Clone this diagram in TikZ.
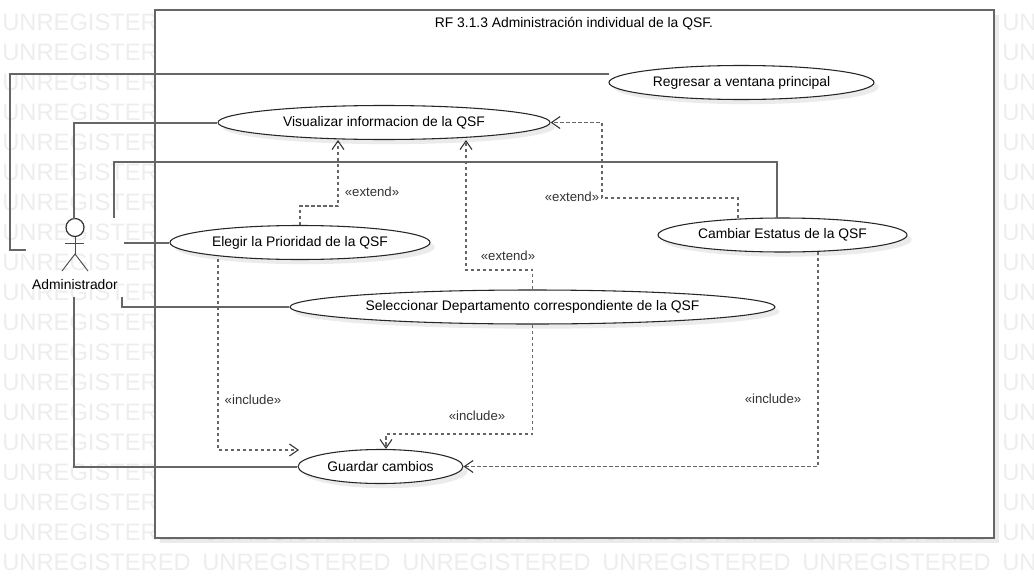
\documentclass[tikz,border=0pt]{standalone}
\usepackage{fontspec}
\setmainfont{Liberation Sans}
\usetikzlibrary{arrows.meta,shadows,shapes.geometric}
\definecolor{linegray}{HTML}{666666}
\definecolor{markgray}{HTML}{EDEDED}
\tikzset{
 usecase/.style={draw=black!85, line width=0.8pt, fill=white, ellipse, inner sep=0pt,
  drop shadow={shadow xshift=3.5pt, shadow yshift=-3.5pt, fill=black, opacity=0.08},
  font=\fontsize{10.4pt}{12pt}\selectfont},
 assoc/.style={draw=linegray, line width=1.5pt},
 dep/.style={draw=linegray, line width=1.2pt, dash pattern=on 2.6pt off 1.9pt,
  -{Straight Barb[length=6.5pt, width=9pt, line width=0.8pt, color=black!80]}},
 stereo/.style={font=\fontsize{9.9pt}{11pt}\selectfont, text=black!80, inner sep=0pt},
 actorline/.style={draw=black!70, line width=0.7pt}
}
\begin{document}
\begin{tikzpicture}[x=0.75pt, y=-0.75pt]
 \useasboundingbox (0,0) rectangle (1034,578);

 % Wasserzeichen
 \begin{scope}
  \clip (0,0) rectangle (1034,578);
  \foreach \r in {0,...,18}
   \foreach \c in {0,...,5}
    \node[anchor=west, inner sep=0pt, text=markgray, font=\fontsize{17.8pt}{20pt}\selectfont]
     (mark-\r-\c) at ({\c*200+2}, {22+\r*30}) {UNREGISTERED};
 \end{scope}

 % System frame
 \node[draw=linegray, line width=1.5pt, fill=white, minimum width=839*0.75pt, minimum height=528*0.75pt,
  inner sep=0pt, drop shadow={shadow xshift=4pt, shadow yshift=-4pt, fill=black, opacity=0.08}]
  (frame) at (574,274) {};
 \node[font=\fontsize{10.4pt}{12pt}\selectfont] (title) at (574,23.5) {RF 3.1.3 Administración individual de la QSF.};

 % Use cases
 \node[usecase, minimum width=265*0.75pt, minimum height=34*0.75pt] (regresar) at (741.5,82.5) {Regresar a ventana principal};
 \node[usecase, minimum width=332*0.75pt, minimum height=34*0.75pt] (visualizar) at (384,122.5) {Visualizar informacion de la QSF};
 \node[usecase, minimum width=260*0.75pt, minimum height=34*0.75pt] (elegir) at (300,242.5) {Elegir la Prioridad de la QSF};
 \node[usecase, minimum width=249*0.75pt, minimum height=34*0.75pt] (cambiar) at (782.5,235) {Cambiar Estatus de la QSF};
 \node[usecase, minimum width=485*0.75pt, minimum height=34*0.75pt] (seleccionar) at (532.5,307) {Seleccionar Departamento correspondiente de la QSF};
 \node[usecase, minimum width=165*0.75pt, minimum height=34*0.75pt] (guardar) at (380.5,466.5) {Guardar cambios};

 % Actor
 \node[draw=black!80, line width=0.9pt, fill=white, circle, minimum size=18*0.75pt, inner sep=0pt] (head) at (75,227.5) {};
 \coordinate (hip) at (75,254);
 \coordinate (armL) at (65,243);
 \coordinate (armR) at (84,243);
 \coordinate (footL) at (62,271);
 \coordinate (footR) at (88,271);
 \draw[actorline] (head) -- (hip);
 \draw[actorline] (armL) -- (armR);
 \draw[actorline] (footL) -- (hip) -- (footR);
 \node[font=\fontsize{10.4pt}{12pt}\selectfont] (admin) at (75,284.5) {Administrador};

 % Free ends at the actor
 \coordinate (endRegresar) at (26,250);
 \coordinate (endVisualizar) at (74,219);
 \coordinate (endCambiar) at (114,218);
 \coordinate (endElegir) at (124,242);
 \coordinate (endSeleccionar) at (122,297);
 \coordinate (endGuardar) at (74,297);

 % Associations
 \coordinate (startRegresar) at (609,74);
 \draw[assoc] (startRegresar) -- (10,74) -- (10,250) -- (endRegresar);
 \draw[assoc] (visualizar.west) -| (endVisualizar);
 \coordinate (startCambiar) at (777,218);
 \draw[assoc] (startCambiar) -- (777,162) -| (endCambiar);
 \draw[assoc] (elegir.west) -- (elegir.west -| endElegir);
 \draw[assoc] (seleccionar.west) -| (endSeleccionar);
 \draw[assoc] (guardar.west) -| (endGuardar);

 % Dependencies
 \coordinate (elbowElegir) at (338,206);
 \draw[dep] (elegir.north) |- (elbowElegir) -- (elbowElegir |- visualizar.south);
 \node[stereo] (extendA) at (372,192) {«extend»};

 \coordinate (elbowSelect) at (466,270);
 \draw[dep] (seleccionar.north) |- (elbowSelect) -- (elbowSelect |- visualizar.south);
 \node[stereo] (extendB) at (508,256) {«extend»};

 \coordinate (startStatus) at (738,218);
 \coordinate (elbowStatus) at (602,198);
 \draw[dep] (startStatus) |- (elbowStatus) |- (visualizar.east);
 \node[stereo] (extendC) at (572,197) {«extend»};

 \coordinate (startPrior) at (218,259);
 \coordinate (endPrior) at (299,450);
 \draw[dep] (startPrior) |- (endPrior);
 \node[stereo] (includeA) at (253,400) {«include»};

 \coordinate (elbowGuard) at (386,434);
 \draw[dep] (seleccionar.south) |- (elbowGuard) -- (elbowGuard |- guardar.north);
 \node[stereo] (includeB) at (477,416) {«include»};

 \coordinate (startGuard) at (818,252);
 \draw[dep] (startGuard) |- (guardar.east);
 \node[stereo] (includeC) at (773,399) {«include»};
\end{tikzpicture}
\end{document}
